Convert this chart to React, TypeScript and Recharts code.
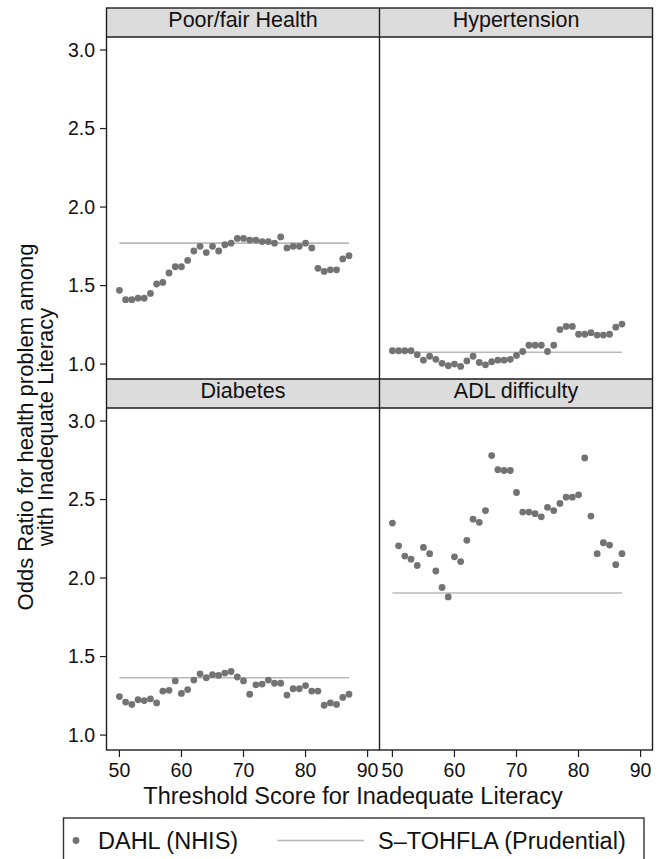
import { ScatterChart, Scatter, XAxis, YAxis, ReferenceLine } from 'recharts';

// threshold scores on the x axis (one DAHL point per score)
const thresholds = [
  50, 51, 52, 53, 54, 55, 56, 57, 58, 59, 60, 61, 62, 63, 64, 65, 66, 67, 68,
  69, 70, 71, 72, 73, 74, 75, 76, 77, 78, 79, 80, 81, 82, 83, 84, 85, 86, 87,
];

// DAHL (NHIS) odds ratios
const poorFairHealth = [
  1.47, 1.41, 1.41, 1.42, 1.42, 1.45, 1.51, 1.52, 1.58, 1.62, 1.62, 1.66, 1.72,
  1.75, 1.71, 1.75, 1.72, 1.76, 1.77, 1.8, 1.8, 1.79, 1.79, 1.78, 1.78, 1.77,
  1.81, 1.74, 1.75, 1.75, 1.77, 1.74, 1.61, 1.59, 1.6, 1.6, 1.67, 1.69,
];
const hypertension = [
  1.085, 1.085, 1.085, 1.085, 1.06, 1.025, 1.05, 1.03, 1.005, 0.99, 1.0, 0.985,
  1.02, 1.05, 1.01, 0.995, 1.015, 1.025, 1.025, 1.03, 1.055, 1.08, 1.12, 1.12,
  1.12, 1.08, 1.12, 1.22, 1.24, 1.24, 1.19, 1.19, 1.2, 1.185, 1.185, 1.19,
  1.235, 1.255,
];
const diabetes = [
  1.245, 1.21, 1.195, 1.225, 1.22, 1.23, 1.205, 1.28, 1.285, 1.345, 1.265,
  1.29, 1.35, 1.39, 1.365, 1.385, 1.38, 1.395, 1.405, 1.37, 1.345, 1.26, 1.32,
  1.325, 1.35, 1.33, 1.33, 1.255, 1.295, 1.295, 1.315, 1.28, 1.28, 1.19, 1.205,
  1.195, 1.24, 1.26,
];
const adlDifficulty = [
  2.35, 2.205, 2.14, 2.12, 2.08, 2.195, 2.155, 2.045, 1.94, 1.88, 2.135, 2.105,
  2.24, 2.375, 2.355, 2.43, 2.78, 2.69, 2.685, 2.685, 2.545, 2.42, 2.42, 2.41,
  2.39, 2.45, 2.43, 2.475, 2.515, 2.515, 2.53, 2.765, 2.395, 2.155, 2.225, 2.21,
  2.085, 2.155,
];

// S-TOHFLA (Prudential) single odds ratio per outcome, drawn from 50 to 87
const sTofhla = [1.77, 1.075, 1.365, 1.905];
const lineFrom = 50;
const lineTo = 87;

const panelTitles = ['Poor/fair Health', 'Hypertension', 'Diabetes', 'ADL difficulty'];
const xTicks = [50, 60, 70, 80, 90];
const yTicks = [1.0, 1.5, 2.0, 2.5, 3.0];

const FONT = '"Liberation Sans", Arial, Helvetica, sans-serif';
const DOT = '#737373';
const REF = '#b8b8b8';
const INK = '#1e1e1e';

const PLOT_W = 273;
const PLOT_H = 342;
const Y_AXIS_W = 60;
const X_AXIS_H = 45;

interface PanelProps {
  values: number[];
  refValue: number;
  left: number;
  top: number;
  showX: boolean;
  showY: boolean;
}

function Panel({ values, refValue, left, top, showX, showY }: PanelProps) {
  const data = thresholds.map((x, i) => ({ x, y: values[i] }));
  const w = PLOT_W + (showY ? Y_AXIS_W : 0);
  const h = PLOT_H + (showX ? X_AXIS_H : 0);
  return (
    <div style={{ position: 'absolute', left: left - (showY ? Y_AXIS_W : 0), top }}>
      <ScatterChart width={w} height={h} margin={{ top: 0, right: 0, bottom: 0, left: 0 }}>
        <XAxis
          type="number"
          dataKey="x"
          domain={[48, 92]}
          ticks={xTicks}
          hide={!showX}
          height={X_AXIS_H}
          allowDataOverflow
          axisLine={false}
          tickSize={7}
          tickMargin={6}
          tickLine={{ stroke: INK, strokeWidth: 1.2 }}
          tick={{ fill: '#111', fontSize: 19.5, fontFamily: FONT }}
        />
        <YAxis
          type="number"
          dataKey="y"
          domain={[0.905, 3.083]}
          ticks={yTicks}
          hide={!showY}
          width={Y_AXIS_W}
          allowDataOverflow
          axisLine={false}
          tickSize={7}
          tickMargin={5}
          tickLine={{ stroke: INK, strokeWidth: 1.2 }}
          tick={{ fill: '#111', fontSize: 19.5, fontFamily: FONT }}
          tickFormatter={(v: number) => v.toFixed(1)}
        />
        <ReferenceLine
          segment={[
            { x: lineFrom, y: refValue },
            { x: lineTo, y: refValue },
          ]}
          stroke={REF}
          strokeWidth={1.6}
        />
        <Scatter
          data={data}
          fill={DOT}
          isAnimationActive={false}
          shape={(p: any) => <circle cx={p.cx} cy={p.cy} r={3.4} fill={DOT} />}
        />
      </ScatterChart>
    </div>
  );
}

export default function App() {
  const x0 = 106.5;
  const xm = 379.5;
  const x1 = 652.5;
  const strip1 = 8;
  const top1 = 37;
  const strip2 = top1 + PLOT_H;
  const top2 = strip2 + 29;
  const bottom = top2 + PLOT_H;

  return (
    <div
      style={{
        position: 'absolute',
        left: 0,
        top: 0,
        width: 665,
        height: 859,
        overflow: 'hidden',
        background: '#fff',
        fontFamily: FONT,
      }}
    >
      <svg width={665} height={859} style={{ position: 'absolute', left: 0, top: 0 }}>
        {/* strip headers */}
        <rect x={x0} y={strip1} width={x1 - x0} height={top1 - strip1} fill="#dcdcdc" />
        <rect x={x0} y={strip2} width={x1 - x0} height={top2 - strip2} fill="#dcdcdc" />
        <text x={(x0 + xm) / 2} y={strip1 + 19} textAnchor="middle" fontSize={21.5} fill="#111">
          {panelTitles[0]}
        </text>
        <text x={(xm + x1) / 2} y={strip1 + 19} textAnchor="middle" fontSize={21.5} fill="#111">
          {panelTitles[1]}
        </text>
        <text x={(x0 + xm) / 2} y={strip2 + 19} textAnchor="middle" fontSize={21.5} fill="#111">
          {panelTitles[2]}
        </text>
        <text x={(xm + x1) / 2} y={strip2 + 19} textAnchor="middle" fontSize={21.5} fill="#111">
          {panelTitles[3]}
        </text>

        {/* frame */}
        <g stroke={INK} strokeWidth={1.4} fill="none">
          <rect x={x0} y={strip1} width={x1 - x0} height={bottom - strip1} />
          <line x1={x0} x2={x1} y1={top1} y2={top1} />
          <line x1={x0} x2={x1} y1={strip2} y2={strip2} />
          <line x1={x0} x2={x1} y1={top2} y2={top2} />
          <line x1={xm} x2={xm} y1={strip1} y2={bottom} />
        </g>

        {/* axis titles */}
        <text x={353} y={804} textAnchor="middle" fontSize={23.5} fill="#111">
          Threshold Score for Inadequate Literacy
        </text>
        <text transform="translate(33, 427) rotate(-90)" textAnchor="middle" fontSize={22} fill="#111">
          Odds Ratio for health problem among
        </text>
        <text transform="translate(52.5, 427) rotate(-90)" textAnchor="middle" fontSize={22} fill="#111">
          with Inadequate Literacy
        </text>

        {/* legend */}
        <rect x={63.5} y={818} width={580.5} height={60} fill="none" stroke="#333" strokeWidth={1.4} />
        <circle cx={76} cy={840.5} r={3.4} fill={DOT} />
        <text x={98} y={849} fontSize={23.5} fill="#111">
          DAHL (NHIS)
        </text>
        <line x1={277.5} x2={364} y1={840.5} y2={840.5} stroke={REF} strokeWidth={1.6} />
        <text x={378} y={849} fontSize={23.5} fill="#111">
          S–TOHFLA (Prudential)
        </text>
      </svg>

      <Panel values={poorFairHealth} refValue={sTofhla[0]} left={x0} top={top1} showX={false} showY />
      <Panel values={hypertension} refValue={sTofhla[1]} left={xm} top={top1} showX={false} showY={false} />
      <Panel values={diabetes} refValue={sTofhla[2]} left={x0} top={top2} showX showY />
      <Panel values={adlDifficulty} refValue={sTofhla[3]} left={xm} top={top2} showX showY={false} />
    </div>
  );
}
